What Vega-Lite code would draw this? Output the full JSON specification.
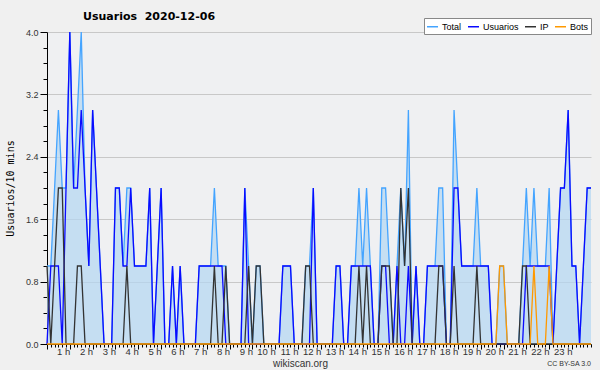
{
  "$schema": "https://vega.github.io/schema/vega-lite/v6.json",
  "width": 544,
  "height": 312,
  "autosize": {"type": "none"},
  "padding": {"left": 47, "top": 32, "right": 9, "bottom": 26},
  "background": "#f0f0f0",
  "config": {"view": {"stroke": null, "fill": "#eff0f2"}},
  "title": {
    "text": "Usuarios\u00a0\u00a02020-12-06",
    "anchor": "start",
    "frame": "group",
    "dx": 36,
    "dy": 15,
    "offset": 11,
    "font": "DejaVu Sans",
    "fontSize": 11,
    "fontWeight": "bold",
    "color": "#000000"
  },
  "datasets": {
    "d": [
      {"m": 0, "Total": 1, "Usuarios": 0, "IP": 1, "Bots": 0},
      {"m": 10, "Total": 1, "Usuarios": 1, "IP": 0, "Bots": 0},
      {"m": 20, "Total": 2, "Usuarios": 1, "IP": 1, "Bots": 0},
      {"m": 30, "Total": 3, "Usuarios": 1, "IP": 2, "Bots": 0},
      {"m": 40, "Total": 2, "Usuarios": 0, "IP": 2, "Bots": 0},
      {"m": 50, "Total": 2, "Usuarios": 2, "IP": 0, "Bots": 0},
      {"m": 60, "Total": 4, "Usuarios": 4, "IP": 0, "Bots": 0},
      {"m": 70, "Total": 2, "Usuarios": 2, "IP": 0, "Bots": 0},
      {"m": 80, "Total": 3, "Usuarios": 2, "IP": 1, "Bots": 0},
      {"m": 90, "Total": 4, "Usuarios": 3, "IP": 1, "Bots": 0},
      {"m": 100, "Total": 2, "Usuarios": 2, "IP": 0, "Bots": 0},
      {"m": 110, "Total": 1, "Usuarios": 1, "IP": 0, "Bots": 0},
      {"m": 120, "Total": 3, "Usuarios": 3, "IP": 0, "Bots": 0},
      {"m": 130, "Total": 2, "Usuarios": 2, "IP": 0, "Bots": 0},
      {"m": 140, "Total": 1, "Usuarios": 1, "IP": 0, "Bots": 0},
      {"m": 150, "Total": 0, "Usuarios": 0, "IP": 0, "Bots": 0},
      {"m": 160, "Total": 0, "Usuarios": 0, "IP": 0, "Bots": 0},
      {"m": 170, "Total": 0, "Usuarios": 0, "IP": 0, "Bots": 0},
      {"m": 180, "Total": 2, "Usuarios": 2, "IP": 0, "Bots": 0},
      {"m": 190, "Total": 2, "Usuarios": 2, "IP": 0, "Bots": 0},
      {"m": 200, "Total": 1, "Usuarios": 1, "IP": 0, "Bots": 0},
      {"m": 210, "Total": 2, "Usuarios": 1, "IP": 1, "Bots": 0},
      {"m": 220, "Total": 2, "Usuarios": 2, "IP": 0, "Bots": 0},
      {"m": 230, "Total": 1, "Usuarios": 1, "IP": 0, "Bots": 0},
      {"m": 240, "Total": 1, "Usuarios": 1, "IP": 0, "Bots": 0},
      {"m": 250, "Total": 1, "Usuarios": 1, "IP": 0, "Bots": 0},
      {"m": 260, "Total": 1, "Usuarios": 1, "IP": 0, "Bots": 0},
      {"m": 270, "Total": 2, "Usuarios": 2, "IP": 0, "Bots": 0},
      {"m": 280, "Total": 0, "Usuarios": 0, "IP": 0, "Bots": 0},
      {"m": 290, "Total": 1, "Usuarios": 1, "IP": 0, "Bots": 0},
      {"m": 300, "Total": 2, "Usuarios": 2, "IP": 0, "Bots": 0},
      {"m": 310, "Total": 0, "Usuarios": 0, "IP": 0, "Bots": 0},
      {"m": 320, "Total": 0, "Usuarios": 0, "IP": 0, "Bots": 0},
      {"m": 330, "Total": 1, "Usuarios": 1, "IP": 0, "Bots": 0},
      {"m": 340, "Total": 0, "Usuarios": 0, "IP": 0, "Bots": 0},
      {"m": 350, "Total": 1, "Usuarios": 1, "IP": 0, "Bots": 0},
      {"m": 360, "Total": 0, "Usuarios": 0, "IP": 0, "Bots": 0},
      {"m": 370, "Total": 0, "Usuarios": 0, "IP": 0, "Bots": 0},
      {"m": 380, "Total": 0, "Usuarios": 0, "IP": 0, "Bots": 0},
      {"m": 390, "Total": 0, "Usuarios": 0, "IP": 0, "Bots": 0},
      {"m": 400, "Total": 1, "Usuarios": 1, "IP": 0, "Bots": 0},
      {"m": 410, "Total": 1, "Usuarios": 1, "IP": 0, "Bots": 0},
      {"m": 420, "Total": 1, "Usuarios": 1, "IP": 0, "Bots": 0},
      {"m": 430, "Total": 1, "Usuarios": 1, "IP": 0, "Bots": 0},
      {"m": 440, "Total": 2, "Usuarios": 1, "IP": 1, "Bots": 0},
      {"m": 450, "Total": 1, "Usuarios": 1, "IP": 0, "Bots": 0},
      {"m": 460, "Total": 1, "Usuarios": 1, "IP": 0, "Bots": 0},
      {"m": 470, "Total": 1, "Usuarios": 0, "IP": 1, "Bots": 0},
      {"m": 480, "Total": 0, "Usuarios": 0, "IP": 0, "Bots": 0},
      {"m": 490, "Total": 0, "Usuarios": 0, "IP": 0, "Bots": 0},
      {"m": 500, "Total": 0, "Usuarios": 0, "IP": 0, "Bots": 0},
      {"m": 510, "Total": 0, "Usuarios": 0, "IP": 0, "Bots": 0},
      {"m": 520, "Total": 2, "Usuarios": 2, "IP": 0, "Bots": 0},
      {"m": 530, "Total": 1, "Usuarios": 0, "IP": 1, "Bots": 0},
      {"m": 540, "Total": 0, "Usuarios": 0, "IP": 0, "Bots": 0},
      {"m": 550, "Total": 1, "Usuarios": 0, "IP": 1, "Bots": 0},
      {"m": 560, "Total": 1, "Usuarios": 0, "IP": 1, "Bots": 0},
      {"m": 570, "Total": 0, "Usuarios": 0, "IP": 0, "Bots": 0},
      {"m": 580, "Total": 0, "Usuarios": 0, "IP": 0, "Bots": 0},
      {"m": 590, "Total": 0, "Usuarios": 0, "IP": 0, "Bots": 0},
      {"m": 600, "Total": 0, "Usuarios": 0, "IP": 0, "Bots": 0},
      {"m": 610, "Total": 0, "Usuarios": 0, "IP": 0, "Bots": 0},
      {"m": 620, "Total": 1, "Usuarios": 1, "IP": 0, "Bots": 0},
      {"m": 630, "Total": 1, "Usuarios": 1, "IP": 0, "Bots": 0},
      {"m": 640, "Total": 1, "Usuarios": 1, "IP": 0, "Bots": 0},
      {"m": 650, "Total": 0, "Usuarios": 0, "IP": 0, "Bots": 0},
      {"m": 660, "Total": 0, "Usuarios": 0, "IP": 0, "Bots": 0},
      {"m": 670, "Total": 0, "Usuarios": 0, "IP": 0, "Bots": 0},
      {"m": 680, "Total": 1, "Usuarios": 0, "IP": 1, "Bots": 0},
      {"m": 690, "Total": 1, "Usuarios": 0, "IP": 1, "Bots": 0},
      {"m": 700, "Total": 2, "Usuarios": 2, "IP": 0, "Bots": 0},
      {"m": 710, "Total": 0, "Usuarios": 0, "IP": 0, "Bots": 0},
      {"m": 720, "Total": 0, "Usuarios": 0, "IP": 0, "Bots": 0},
      {"m": 730, "Total": 0, "Usuarios": 0, "IP": 0, "Bots": 0},
      {"m": 740, "Total": 0, "Usuarios": 0, "IP": 0, "Bots": 0},
      {"m": 750, "Total": 0, "Usuarios": 0, "IP": 0, "Bots": 0},
      {"m": 760, "Total": 1, "Usuarios": 1, "IP": 0, "Bots": 0},
      {"m": 770, "Total": 1, "Usuarios": 1, "IP": 0, "Bots": 0},
      {"m": 780, "Total": 0, "Usuarios": 0, "IP": 0, "Bots": 0},
      {"m": 790, "Total": 0, "Usuarios": 0, "IP": 0, "Bots": 0},
      {"m": 800, "Total": 1, "Usuarios": 1, "IP": 0, "Bots": 0},
      {"m": 810, "Total": 1, "Usuarios": 1, "IP": 0, "Bots": 0},
      {"m": 820, "Total": 2, "Usuarios": 1, "IP": 1, "Bots": 0},
      {"m": 830, "Total": 1, "Usuarios": 1, "IP": 0, "Bots": 0},
      {"m": 840, "Total": 2, "Usuarios": 1, "IP": 1, "Bots": 0},
      {"m": 850, "Total": 1, "Usuarios": 1, "IP": 0, "Bots": 0},
      {"m": 860, "Total": 0, "Usuarios": 0, "IP": 0, "Bots": 0},
      {"m": 870, "Total": 0, "Usuarios": 0, "IP": 0, "Bots": 0},
      {"m": 880, "Total": 2, "Usuarios": 1, "IP": 1, "Bots": 0},
      {"m": 890, "Total": 2, "Usuarios": 1, "IP": 1, "Bots": 0},
      {"m": 900, "Total": 1, "Usuarios": 0, "IP": 1, "Bots": 0},
      {"m": 910, "Total": 0, "Usuarios": 0, "IP": 0, "Bots": 0},
      {"m": 920, "Total": 1, "Usuarios": 1, "IP": 0, "Bots": 0},
      {"m": 930, "Total": 2, "Usuarios": 0, "IP": 2, "Bots": 0},
      {"m": 940, "Total": 1, "Usuarios": 0, "IP": 1, "Bots": 0},
      {"m": 950, "Total": 3, "Usuarios": 1, "IP": 2, "Bots": 0},
      {"m": 960, "Total": 0, "Usuarios": 0, "IP": 0, "Bots": 0},
      {"m": 970, "Total": 1, "Usuarios": 1, "IP": 0, "Bots": 0},
      {"m": 980, "Total": 0, "Usuarios": 0, "IP": 0, "Bots": 0},
      {"m": 990, "Total": 0, "Usuarios": 0, "IP": 0, "Bots": 0},
      {"m": 1000, "Total": 1, "Usuarios": 1, "IP": 0, "Bots": 0},
      {"m": 1010, "Total": 1, "Usuarios": 1, "IP": 0, "Bots": 0},
      {"m": 1020, "Total": 1, "Usuarios": 1, "IP": 0, "Bots": 0},
      {"m": 1030, "Total": 2, "Usuarios": 1, "IP": 1, "Bots": 0},
      {"m": 1040, "Total": 2, "Usuarios": 1, "IP": 1, "Bots": 0},
      {"m": 1050, "Total": 0, "Usuarios": 0, "IP": 0, "Bots": 0},
      {"m": 1060, "Total": 0, "Usuarios": 0, "IP": 0, "Bots": 0},
      {"m": 1070, "Total": 3, "Usuarios": 2, "IP": 1, "Bots": 0},
      {"m": 1080, "Total": 2, "Usuarios": 2, "IP": 0, "Bots": 0},
      {"m": 1090, "Total": 1, "Usuarios": 1, "IP": 0, "Bots": 0},
      {"m": 1100, "Total": 1, "Usuarios": 1, "IP": 0, "Bots": 0},
      {"m": 1110, "Total": 1, "Usuarios": 1, "IP": 0, "Bots": 0},
      {"m": 1120, "Total": 1, "Usuarios": 1, "IP": 0, "Bots": 0},
      {"m": 1130, "Total": 2, "Usuarios": 1, "IP": 1, "Bots": 0},
      {"m": 1140, "Total": 1, "Usuarios": 1, "IP": 0, "Bots": 0},
      {"m": 1150, "Total": 1, "Usuarios": 1, "IP": 0, "Bots": 0},
      {"m": 1160, "Total": 1, "Usuarios": 1, "IP": 0, "Bots": 0},
      {"m": 1170, "Total": 0, "Usuarios": 0, "IP": 0, "Bots": 0},
      {"m": 1180, "Total": 0, "Usuarios": 0, "IP": 0, "Bots": 0},
      {"m": 1190, "Total": 1, "Usuarios": 0, "IP": 0, "Bots": 1},
      {"m": 1200, "Total": 1, "Usuarios": 0, "IP": 0, "Bots": 1},
      {"m": 1210, "Total": 0, "Usuarios": 0, "IP": 0, "Bots": 0},
      {"m": 1220, "Total": 0, "Usuarios": 0, "IP": 0, "Bots": 0},
      {"m": 1230, "Total": 0, "Usuarios": 0, "IP": 0, "Bots": 0},
      {"m": 1240, "Total": 0, "Usuarios": 0, "IP": 0, "Bots": 0},
      {"m": 1250, "Total": 1, "Usuarios": 0, "IP": 1, "Bots": 0},
      {"m": 1260, "Total": 2, "Usuarios": 1, "IP": 1, "Bots": 0},
      {"m": 1270, "Total": 1, "Usuarios": 1, "IP": 0, "Bots": 0},
      {"m": 1280, "Total": 2, "Usuarios": 1, "IP": 0, "Bots": 1},
      {"m": 1290, "Total": 1, "Usuarios": 1, "IP": 0, "Bots": 0},
      {"m": 1300, "Total": 1, "Usuarios": 1, "IP": 0, "Bots": 0},
      {"m": 1310, "Total": 1, "Usuarios": 1, "IP": 0, "Bots": 0},
      {"m": 1320, "Total": 2, "Usuarios": 1, "IP": 0, "Bots": 1},
      {"m": 1330, "Total": 0, "Usuarios": 0, "IP": 0, "Bots": 0},
      {"m": 1340, "Total": 1, "Usuarios": 1, "IP": 0, "Bots": 0},
      {"m": 1350, "Total": 2, "Usuarios": 2, "IP": 0, "Bots": 0},
      {"m": 1360, "Total": 2, "Usuarios": 2, "IP": 0, "Bots": 0},
      {"m": 1370, "Total": 3, "Usuarios": 3, "IP": 0, "Bots": 0},
      {"m": 1380, "Total": 1, "Usuarios": 1, "IP": 0, "Bots": 0},
      {"m": 1390, "Total": 1, "Usuarios": 1, "IP": 0, "Bots": 0},
      {"m": 1400, "Total": 0, "Usuarios": 0, "IP": 0, "Bots": 0},
      {"m": 1410, "Total": 1, "Usuarios": 1, "IP": 0, "Bots": 0},
      {"m": 1420, "Total": 2, "Usuarios": 2, "IP": 0, "Bots": 0},
      {"m": 1430, "Total": 2, "Usuarios": 2, "IP": 0, "Bots": 0}
    ]
  },
  "encoding": {
    "x": {
      "field": "m",
      "type": "quantitative",
      "scale": {"domain": [0, 1430], "nice": false, "zero": false},
      "axis": {
        "values": [0,10,20,30,40,50,60,70,80,90,100,110,120,130,140,150,160,170,180,190,200,210,220,230,240,250,260,270,280,290,300,310,320,330,340,350,360,370,380,390,400,410,420,430,440,450,460,470,480,490,500,510,520,530,540,550,560,570,580,590,600,610,620,630,640,650,660,670,680,690,700,710,720,730,740,750,760,770,780,790,800,810,820,830,840,850,860,870,880,890,900,910,920,930,940,950,960,970,980,990,1000,1010,1020,1030,1040,1050,1060,1070,1080,1090,1100,1110,1120,1130,1140,1150,1160,1170,1180,1190,1200,1210,1220,1230,1240,1250,1260,1270,1280,1290,1300,1310,1320,1330,1340,1350,1360,1370,1380,1390,1400,1410,1420,1430],
        "labelExpr": "datum.value % 60 == 0 && datum.value > 0 ? (datum.value / 60) + ' h' : ''",
        "tickSize": {"condition": {"test": "datum.value % 60 == 0", "value": 5}, "value": 3},
        "grid": false,
        "domainColor": "#000000",
        "tickColor": "#000000",
        "labelFont": "Liberation Sans",
        "labelFontSize": 9.5,
        "labelColor": "#333333",
        "labelAlign": "right",
        "labelPadding": -3,
        "labelOverlap": false,
        "labelFlush": false,
        "labelBound": false,
        "title": "wikiscan.org",
        "titleFont": "Liberation Sans",
        "titleFontSize": 10,
        "titleFontWeight": "normal",
        "titleColor": "#333333",
        "titleX": 253,
        "titleY": 22,
        "titleBaseline": "alphabetic"
      }
    },
    "y": {
      "field": "v",
      "type": "quantitative",
      "scale": {"domain": [0, 4], "nice": false},
      "axis": {
        "values": [0,0.2,0.4,0.6,0.8,1,1.2,1.4,1.6,1.8,2,2.2,2.4,2.6,2.8,3,3.2,3.4,3.6,3.8,4],
        "labelExpr": "abs(datum.value / 0.8 - round(datum.value / 0.8)) < 0.001 ? format(datum.value, '.1f') : ''",
        "tickSize": {"condition": {"test": "abs(datum.value / 0.8 - round(datum.value / 0.8)) < 0.001", "value": 7}, "value": 4},
        "gridOpacity": {"condition": {"test": "abs(datum.value / 0.8 - round(datum.value / 0.8)) < 0.001 && datum.value > 0", "value": 1}, "value": 0},
        "gridColor": "#c8c8c8",
        "domainColor": "#000000",
        "tickColor": "#000000",
        "labelFont": "Liberation Sans",
        "labelFontSize": 9,
        "labelColor": "#333333",
        "labelPadding": 2,
        "labelOverlap": false,
        "labelFlush": false,
        "labelBound": false,
        "title": "Usuarios/10 mins",
        "titleFont": "DejaVu Sans Mono",
        "titleFontSize": 10,
        "titleFontWeight": "normal",
        "titleColor": "#000000",
        "titleX": -37,
        "titleY": 156,
        "titleAngle": -90,
        "titleBaseline": "middle"
      }
    }
  },
  "layer": [
    {
      "data": {"name": "d"},
      "transform": [{"fold": ["Total"], "as": ["serie", "v"]}],
      "mark": {"type": "area", "color": "#b4d6f2", "opacity": 0.7}
    },
    {
      "data": {"name": "d"},
      "transform": [{"fold": ["Total", "Usuarios", "IP", "Bots"], "as": ["serie", "v"]}],
      "mark": {"type": "line", "strokeWidth": 1.3},
      "encoding": {
        "color": {
          "field": "serie",
          "type": "nominal",
          "scale": {"domain": ["Total", "Usuarios", "IP", "Bots"], "range": ["#44a4ff", "#0a0aff", "#333333", "#ff9900"]},
          "legend": {
            "title": null,
            "orient": "none",
            "legendX": 377,
            "legendY": -14,
            "direction": "horizontal",
            "fillColor": "#ffffff",
            "strokeColor": "#888888",
            "padding": 2,
            "symbolType": "stroke",
            "symbolSize": 121,
            "symbolStrokeWidth": 1.5,
            "labelFont": "Liberation Sans",
            "labelFontSize": 9,
            "labelColor": "#000000",
            "labelOffset": 3,
            "columnPadding": 3
          }
        }
      }
    },
    {
      "data": {"values": [{"t": "CC BY-SA 3.0", "m": 1430, "v": 0}]},
      "mark": {"type": "text", "align": "right", "baseline": "alphabetic", "dy": 22, "font": "Liberation Sans", "fontSize": 7, "color": "#333333"},
      "encoding": {
        "text": {"field": "t"}
      }
    }
  ]
}
